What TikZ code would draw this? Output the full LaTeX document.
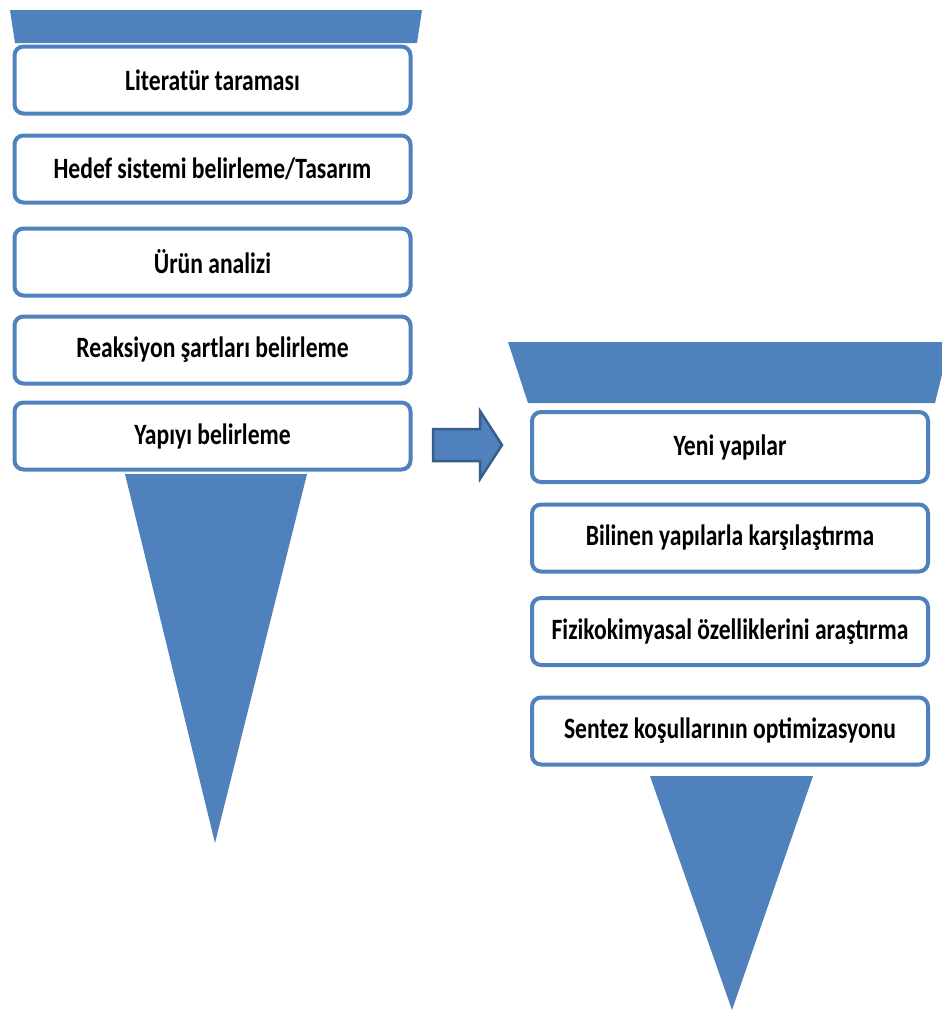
\documentclass[tikz,border=0pt]{standalone}
\usepackage{fontspec}
\setmainfont{Carlito}
\definecolor{fblue}{RGB}{79,129,189}
\definecolor{dblue}{RGB}{56,93,138}
\newcommand{\stxt}[1]{\scalebox{1}[1.25]{\bfseries #1}}
\begin{document}
\begin{tikzpicture}[x=1pt,y=-1pt,
  stepbox/.style={draw=fblue, line width=4pt, fill=white, rounded corners=9pt,
    minimum width=396pt, minimum height=67pt, inner sep=0pt,
    font=\fontsize{23.6}{26}\selectfont},
  funnel/.style={fill=fblue, draw=none}]
\useasboundingbox[fill=white] (0,0) rectangle (942,1012);
% left funnel
\fill[funnel] (10,10) -- (422,10) -- (417,43) -- (15,43) -- cycle;
\node[stepbox] (l1) at (212.5,80) {\stxt{Literatür taraması}};
\node[stepbox] (l2) at (212.5,169) {\stxt{Hedef sistemi belirleme/Tasarım}};
\node[stepbox] (l3) at (212.5,262) {\stxt{Ürün analizi}};
\node[stepbox] (l4) at (212.5,350) {\stxt{Reaksiyon şartları belirleme}};
\node[stepbox] (l5) at (212.5,436) {\stxt{Yapıyı belirleme}};
\fill[funnel] (125,474) -- (307,474) -- (215,843) -- cycle;
% arrow
\draw[fill=fblue, draw=dblue, line width=2.5pt, line join=miter]
  (433,429) -- (480,429) -- (480,411) -- (502,445) -- (480,479) -- (480,461) -- (433,461) -- cycle;
% right funnel
\fill[funnel] (508,342) -- (950,342) -- (935,403) -- (528,403) -- cycle;
\node[stepbox, minimum height=70pt] (r1) at (730,447) {\stxt{Yeni yapılar}};
\node[stepbox] (r2) at (730,538) {\stxt{Bilinen yapılarla karşılaştırma}};
\node[stepbox] (r3) at (730,631.5) {\stxt{Fizikokimyasal özelliklerini araştırma}};
\node[stepbox] (r4) at (730,731) {\stxt{Sentez koşullarının optimizasyonu}};
\fill[funnel] (650,776) -- (813,776) -- (732,1010) -- cycle;
\end{tikzpicture}
\end{document}
